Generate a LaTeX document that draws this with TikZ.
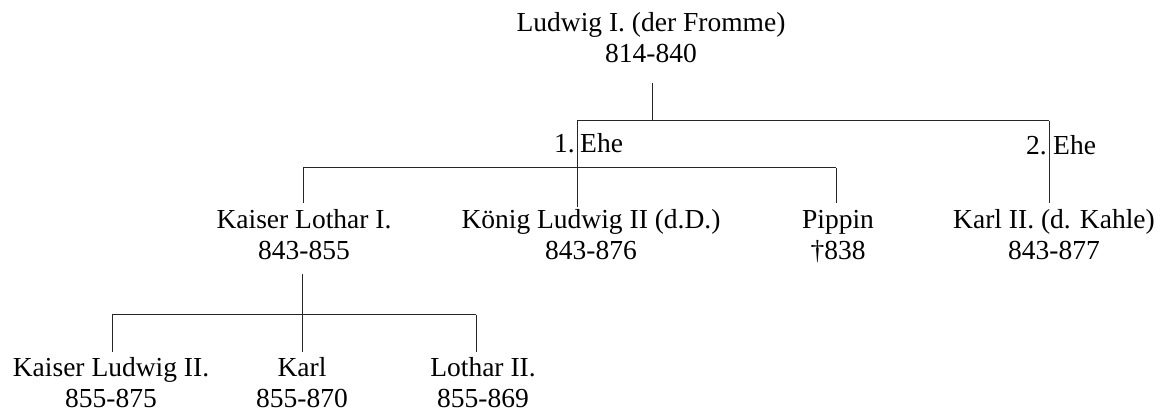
\documentclass[tikz,border=0pt]{standalone}
\usepackage{fontspec}
\setmainfont{Liberation Serif}
\begin{document}
\begin{tikzpicture}[x=1pt,y=-1pt,
  person/.style={align=center,anchor=base,inner sep=0pt,font=\fontsize{27.5}{31}\selectfont},
  lbl/.style={inner sep=0pt,font=\fontsize{27.5}{31}\selectfont},
  link/.style={draw=black!85,line width=1pt}]
\useasboundingbox (0,0) rectangle (1173,411);
% persons (anchor = baseline of the last line)
\node[person] (ludwig) at (651,63) {Ludwig I. (der Fromme)\\814-840};
\node[person] (lothar) at (304,260) {Kaiser Lothar I.\\843-855};
\node[person] (koenig) at (591,260) {König Ludwig II (d.D.)\\843-876};
\node[person] (pippin) at (838,260) {Pippin\\†838};
\node[person] (karlzwei) at (1054,260) {Karl II. (d. Kahle)\\843-877};
\node[person] (kludwig) at (111,408) {Kaiser Ludwig II.\\855-875};
\node[person] (karl) at (302,408) {Karl\\855-870};
\node[person] (lotharzwei) at (483,408) {Lothar II.\\855-869};
% junction coordinates
\coordinate (ta) at (652,83);
\coordinate (tb) at (652,121);
\coordinate (ea) at (577,121);
\coordinate (eb) at (1049,121);
\coordinate (ma) at (577,168);
\coordinate (ml) at (303,168);
\coordinate (mr) at (836,168);
\coordinate (ka) at (577,207);
\coordinate (kl) at (303,203);
\coordinate (kr) at (836,203);
\coordinate (kz) at (1049,203);
\coordinate (la) at (302,274);
\coordinate (lb) at (302,315);
\coordinate (ll) at (112,315);
\coordinate (lr) at (476,315);
\coordinate (lc) at (302,352);
\coordinate (lx) at (112,352);
\coordinate (ly) at (476,352);
% marriage labels
\node[lbl,anchor=base east] (e1n) at (575,153) {1.};
\node[lbl,anchor=base west] (e1t) at (580,153) {Ehe};
\node[lbl,anchor=base east] (e2n) at (1047,155) {2.};
\node[lbl,anchor=base west] (e2t) at (1053,155) {Ehe};
% connectors
\draw[link] (ta) -- (tb);
\draw[link] (ea) -- (eb);
\draw[link] (ea) -- (ka);
\draw[link] (eb) -- (kz);
\draw[link] (ml) -- (mr);
\draw[link] (ml) -- (kl);
\draw[link] (mr) -- (kr);
\draw[link] (la) -- (lc);
\draw[link] (ll) -- (lr);
\draw[link] (ll) -- (lx);
\draw[link] (lr) -- (ly);
\end{tikzpicture}
\end{document}
